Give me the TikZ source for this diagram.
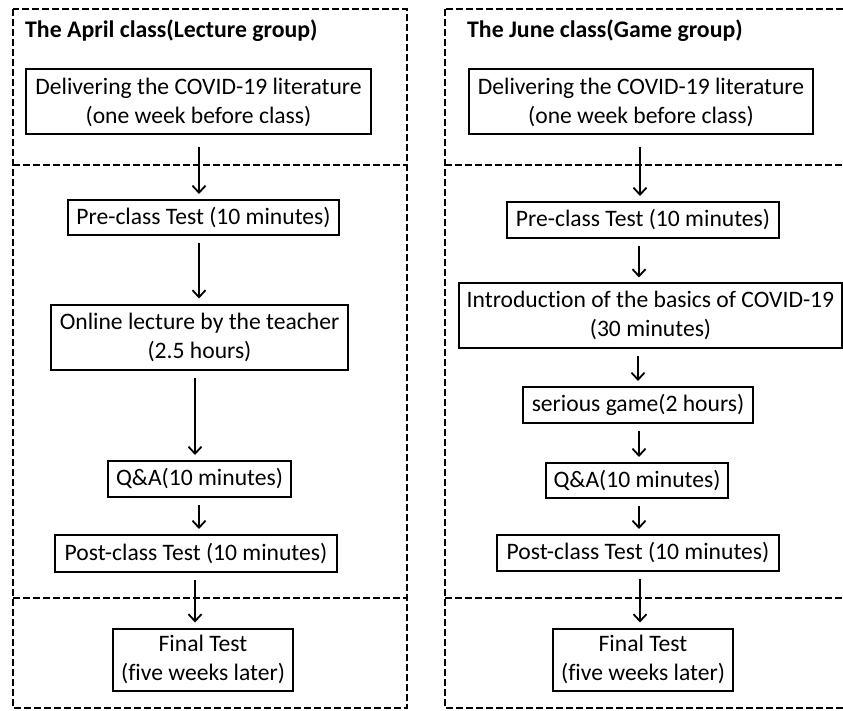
\documentclass[tikz,border=0pt]{standalone}
\usepackage{fontspec}
\setmainfont[Ligatures={NoCommon}]{Carlito}
\usetikzlibrary{arrows.meta}
\begin{document}
\begin{tikzpicture}[x=1pt,y=-1pt,
  stepbox/.style={draw, line width=2pt, inner sep=0pt, align=center,
    font=\fontsize{23.6}{29}\selectfont},
  panel/.style={draw, line width=1.6pt, dash pattern=on 7pt off 3pt},
  title/.style={anchor=base west, inner sep=0pt, font=\fontsize{23.8}{28}\selectfont\bfseries},
  arr/.style={line width=1.8pt, -{Straight Barb[length=7pt,width=13pt,line width=1.8pt]},
    shorten <=7pt, shorten >=5pt}]
\useasboundingbox (0,0) rectangle (843,711);
\clip (0,0) rectangle (843,711);
\fill[white] (0,0) rectangle (843,711);
% panels
\draw[panel] (13,9) rectangle (407,708);
\draw[panel] (13,165) -- (407,165);
\draw[panel] (13,598) -- (407,598);
\draw[panel] (445,9) rectangle (870,708);
\draw[panel] (445,165) -- (870,165);
\draw[panel] (445,598) -- (870,598);
% titles
\node[title] (tl) at (25,38) {The April class(Lecture group)};
\node[title] (tr) at (467,38) {The June class(Game group)};
% left column
\node[stepbox, minimum width=345, minimum height=65] (L1) at (198.5,102) {Delivering the COVID-19 literature\\(one week before class)};
\node[stepbox, minimum width=271, minimum height=35] (L2) at (203.5,217.5) {Pre-class Test (10 minutes)};
\node[stepbox, minimum width=297, minimum height=65] (L3) at (199.5,337) {Online lecture by the teacher\\(2.5 hours)};
\node[stepbox, minimum width=183, minimum height=36] (L4) at (199.5,479) {Q\&A(10 minutes)};
\node[stepbox, minimum width=282, minimum height=37] (L5) at (196,553.5) {Post-class Test (10 minutes)};
\node[stepbox, minimum width=180, minimum height=62] (L6) at (203,659.5) {Final Test\\(five weeks later)};
% right column
\node[stepbox, minimum width=344, minimum height=65] (R1) at (641,102) {Delivering the COVID-19 literature\\(one week before class)};
\node[stepbox, minimum width=272, minimum height=36] (R2) at (643,220) {Pre-class Test (10 minutes)};
\node[stepbox, minimum width=383, minimum height=64] (R3) at (650.5,315.5) {Introduction of the basics of COVID-19\\(30 minutes)};
\node[stepbox, minimum width=230, minimum height=36] (R4) at (638,405) {serious game(2 hours)};
\node[stepbox, minimum width=182, minimum height=35] (R5) at (637,480.5) {Q\&A(10 minutes)};
\node[stepbox, minimum width=282, minimum height=36] (R6) at (638,553) {Post-class Test (10 minutes)};
\node[stepbox, minimum width=180, minimum height=62] (R7) at (643,659.5) {Final Test\\(five weeks later)};
% arrows left
\draw[arr, shorten <=12pt] (199,0 |- L1.south) -- (199,0 |- L2.north);
\draw[arr] (199,0 |- L2.south) -- (199,0 |- L3.north);
\draw[arr] (195,0 |- L3.south) -- (195,0 |- L4.north);
\draw[arr] (199,0 |- L4.south) -- (199,0 |- L5.north);
\draw[arr] (195,0 |- L5.south) -- (195,0 |- L6.north);
% arrows right
\draw[arr, shorten <=12pt] (640,0 |- R1.south) -- (640,0 |- R2.north);
\draw[arr] (639,0 |- R2.south) -- (639,0 |- R3.north);
\draw[arr] (638,0 |- R3.south) -- (638,0 |- R4.north);
\draw[arr] (639,0 |- R4.south) -- (639,0 |- R5.north);
\draw[arr] (639,0 |- R5.south) -- (639,0 |- R6.north);
\draw[arr] (640,0 |- R6.south) -- (640,0 |- R7.north);
\end{tikzpicture}
\end{document}
